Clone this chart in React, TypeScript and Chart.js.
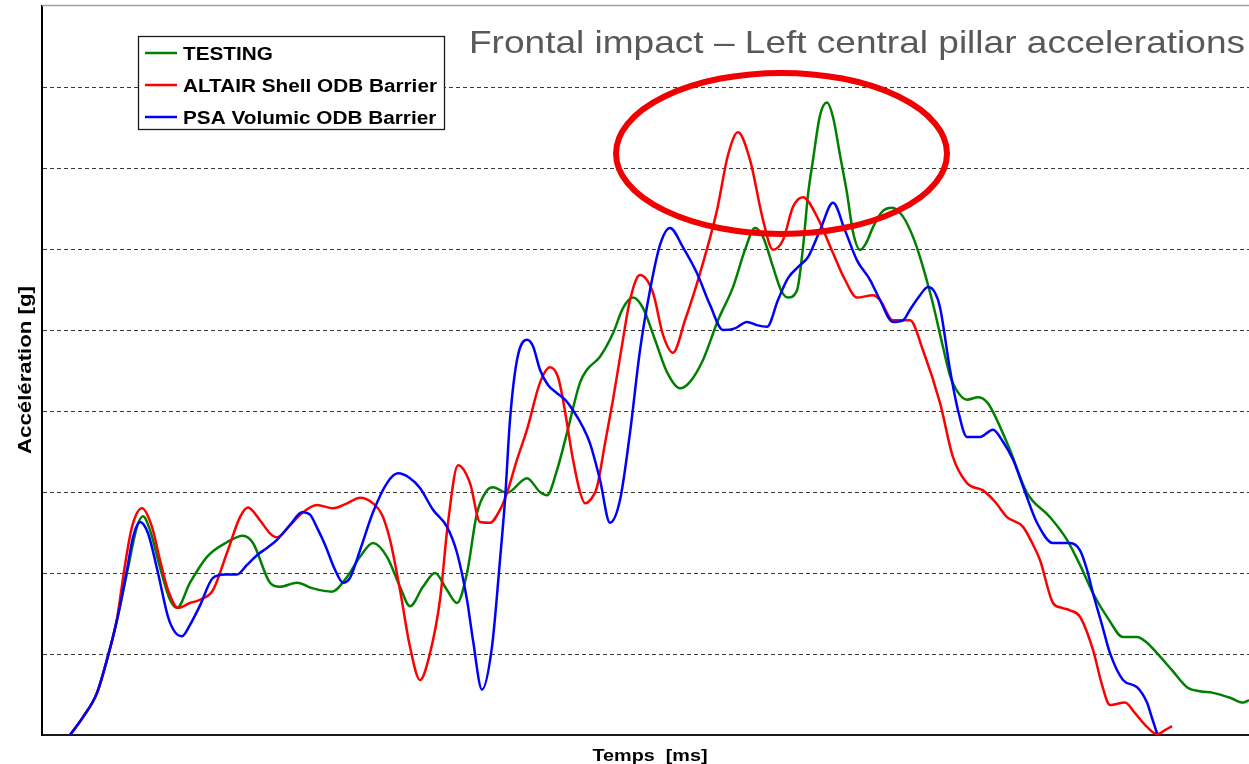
import React, { useEffect, useRef } from 'react';
import { Chart, registerables } from 'chart.js';

Chart.register(...registerables);

// ---------------- DATA ----------------
const testingTime = [2.8,4.1,5.5,6.5,7.5,8.5,9.5,10.1,10.8,11.8,12.8,13.5,14.8,16.5,18.5,20.1,21.1,22.8,23.8,25.5,27.1,29.0,30.5,31.8,33.1,34.5,35.8,36.8,38.1,39.3,40.5,41.5,42.5,43.5,44.5,45.1,46.5,48.5,49.8,50.5,51.5,52.5,53.8,54.5,55.8,57.1,58.1,59.1,60.1,61.3,62.5,63.8,64.8,66.1,67.6,69.1,70.3,71.3,72.1,73.1,73.9,74.6,75.5,76.1,76.6,77.1,77.8,78.5,79.1,79.8,80.5,81.1,81.8,82.4,83.1,84.0,85.0,86.1,87.1,87.8,89.0,90.1,90.8,91.6,92.5,93.6,94.5,95.1,96.8,98.5,100.8,102.5,103.8,105.1,106.6,108.1,109.5,110.5,111.5,113.0,114.5,115.8,117.1,118.8,120.1,120.7];
const testingAccel = [0,2.2,5.2,9.3,14.2,20.0,25.7,27.0,25.3,20.7,16.7,15.7,18.8,22.0,23.8,24.6,23.7,18.8,18.3,18.8,18.1,17.7,19.5,22.0,23.7,22.0,18.3,15.9,18.3,20.0,17.9,16.3,20.0,27.4,30.2,30.6,29.9,31.7,30.0,29.6,32.7,37.3,43.5,45.1,46.7,49.6,52.7,54.0,52.7,48.8,44.8,42.8,43.6,46.3,51.2,55.3,59.9,62.6,61.5,57.8,54.9,54.0,54.9,60.2,66.7,71.0,76.5,78.1,76.3,71.6,66.9,62.1,59.9,60.7,62.7,64.6,65.1,64.0,61.5,59.0,53.7,47.9,44.4,42.3,41.4,41.7,41.1,39.9,35.2,29.9,26.9,24.1,21.0,17.5,14.4,12.1,12.1,11.4,10.1,8.0,5.9,5.4,5.2,4.6,4.0,4.3];

const altairTime = [2.8,4.1,5.5,6.5,7.5,8.3,9.0,10.0,11.0,11.8,12.6,13.6,14.8,15.8,17.1,18.5,19.8,20.6,21.8,22.8,23.5,24.8,26.1,27.5,29.1,30.5,31.8,33.1,34.0,34.8,35.8,36.8,37.8,38.8,39.8,40.6,41.6,42.8,43.8,44.8,45.8,46.5,47.5,48.5,49.8,50.8,51.6,52.1,53.1,53.8,54.3,55.0,55.5,56.3,57.1,58.0,58.8,59.8,61.1,62.1,63.1,64.3,65.8,67.5,68.6,69.6,70.8,72.1,73.1,74.1,75.1,76.1,77.5,79.1,80.3,81.5,83.1,83.8,85.1,86.8,88.1,89.8,91.1,92.5,94.1,95.3,96.5,98.1,99.1,99.8,101.1,102.0,102.8,103.8,105.1,106.0,106.8,108.3,109.3,110.5,111.5,112.3,113.0];
const altairAccel = [0,2.2,5.2,9.3,14.4,21.0,25.7,28.0,25.7,21.6,17.9,15.7,16.3,16.7,17.9,22.5,26.9,28.1,26.5,24.9,24.4,25.9,27.5,28.4,28.0,28.6,29.3,28.6,27.2,24.1,17.9,10.9,6.8,10.1,16.7,26.2,33.3,31.1,26.3,26.2,27.8,29.9,34.0,37.7,43.5,45.4,44.2,41.4,34.0,30.0,28.6,29.3,30.6,36.0,41.4,48.1,53.7,56.8,54.6,49.4,47.2,51.2,57.0,64.8,71.6,74.4,71.0,63.6,59.9,61.1,65.2,66.4,64.0,59.5,56.2,54.0,54.3,53.7,51.2,51.2,47.5,41.0,34.3,31.1,30.2,28.8,26.9,25.7,23.5,21.6,16.3,15.7,15.4,14.6,10.5,6.2,3.7,4.0,2.7,1.0,0.1,0.6,1.1];

const psaTime = [2.8,4.1,5.5,6.5,7.5,8.5,9.1,9.8,10.6,11.6,12.6,13.3,14.0,14.8,15.8,17.1,18.3,19.5,20.5,21.5,22.5,23.5,24.8,26.0,26.8,27.5,28.3,29.3,30.1,30.8,31.8,33.1,34.5,35.6,36.8,37.8,39.1,40.5,41.5,42.5,43.1,44.0,45.0,45.8,46.3,46.8,47.5,48.5,49.1,49.8,50.6,51.5,52.3,53.1,54.1,54.8,55.8,56.8,57.8,58.8,59.8,60.8,61.8,62.8,64.1,65.5,66.8,68.1,69.3,70.5,71.5,72.5,73.6,74.6,75.8,76.6,77.8,79.1,80.3,81.5,82.8,83.8,85.1,86.1,86.8,87.8,88.6,89.3,89.8,90.8,91.6,92.5,93.8,95.1,96.1,97.1,98.3,99.5,101.1,102.8,103.8,104.5,105.1,106.0,106.8,108.1,109.5,110.5,111.0,111.5];
const psaAccel = [0,2.2,5.2,9.3,14.2,20.4,24.4,26.3,24.9,20.0,14.6,12.7,12.2,13.6,16.0,19.4,19.8,19.8,21.0,22.2,23.1,24.1,25.9,27.5,27.2,25.6,23.5,20.4,18.8,19.4,22.8,27.5,31.1,32.3,31.7,30.5,27.8,25.7,22.5,16.7,11.7,5.6,10.9,21.6,29.0,38.9,46.3,48.8,48.0,45.1,43.2,42.2,41.4,40.1,38.0,36.0,31.5,26.2,29.0,37.3,47.5,54.9,60.5,62.6,60.2,57.0,53.1,50.0,50.2,51.0,50.6,50.4,53.7,56.4,58.0,59.0,62.3,65.7,62.3,58.6,56.2,53.7,51.0,51.2,52.5,54.3,55.3,54.6,52.8,45.1,40.1,36.8,36.8,37.7,36.2,34.0,30.0,26.2,23.7,23.7,22.8,20.4,17.5,13.6,10.1,6.8,5.9,4.0,2.1,0.2];

const seriesLabels = ['TESTING', 'ALTAIR Shell ODB Barrier', 'PSA Volumic ODB Barrier'];
const seriesColors = ['#008000', '#ff0000', '#0000ff'];

const chartTitle = 'Frontal impact \u2013 Left central pillar accelerations';
const xAxisTitle = 'Temps  [ms]';
const yAxisTitle = 'Acc\u00e9l\u00e9ration [g]';

const timeRange = [0, 120.7];
const accelRange = [0, 90];
const accelStep = 10;

// highlighted region (ellipse) in data units: centre time, centre accel, half-width, half-height
const highlightCentre = [73.95, 71.8];
const highlightRadii = [16.55, 9.94];

// ---------------- HELPERS ----------------
const FONT = "'Liberation Sans', Arial, Helvetica, sans-serif";

function toPoints(t: number[], a: number[]) {
  const n = Math.min(t.length, a.length);
  const out: { x: number; y: number }[] = [];
  for (let i = 0; i < n; i++) out.push({ x: t[i], y: a[i] });
  return out;
}

function drawStretched(
  ctx: CanvasRenderingContext2D,
  text: string,
  x: number,
  y: number,
  font: string,
  width: number,
  align: CanvasTextAlign,
  rot = 0,
  color = '#000'
) {
  ctx.save();
  ctx.font = font;
  const w = ctx.measureText(text).width || 1;
  const sx = width / w;
  ctx.translate(x, y);
  if (rot) ctx.rotate(rot);
  ctx.scale(sx, 1);
  ctx.textAlign = align;
  ctx.textBaseline = 'alphabetic';
  ctx.fillStyle = color;
  ctx.fillText(text, 0, 0);
  ctx.restore();
}

const overlayPlugin = {
  id: 'overlay',
  afterDraw(chart: any) {
    const { ctx, chartArea, scales } = chart;
    const xs = scales.x;
    const ys = scales.y;

    ctx.save();
    // top frame line
    ctx.strokeStyle = '#a3a3a3';
    ctx.lineWidth = 1.5;
    ctx.beginPath();
    ctx.moveTo(chartArea.left, chartArea.top - 0.5);
    ctx.lineTo(chartArea.right, chartArea.top - 0.5);
    ctx.stroke();

    // highlight ellipse
    const cx = xs.getPixelForValue(highlightCentre[0]);
    const cy = ys.getPixelForValue(highlightCentre[1]);
    const rx = xs.getPixelForValue(highlightCentre[0] + highlightRadii[0]) - cx;
    const ry = cy - ys.getPixelForValue(highlightCentre[1] + highlightRadii[1]);
    ctx.strokeStyle = '#f00000';
    ctx.lineWidth = 6;
    ctx.beginPath();
    ctx.ellipse(cx, cy, rx, ry, 0, 0, Math.PI * 2);
    ctx.stroke();

    // legend
    const bx = 138, by = 36, bw = 307, bh = 94;
    ctx.fillStyle = '#ffffff';
    ctx.fillRect(bx, by, bw, bh);
    ctx.strokeStyle = '#1a1a1a';
    ctx.lineWidth = 1.3;
    ctx.strokeRect(bx + 0.5, by + 0.5, bw - 1, bh - 1);
    const legendFont = `bold 17.5px ${FONT}`;
    ctx.font = legendFont;
    const refW = ctx.measureText(seriesLabels[1]).width || 1;
    const sx = 254 / refW;
    chart.data.datasets.forEach((ds: any, i: number) => {
      const ly = 53 + i * 32;
      ctx.strokeStyle = ds.borderColor;
      ctx.lineWidth = 2.5;
      ctx.beginPath();
      ctx.moveTo(145, ly);
      ctx.lineTo(177, ly);
      ctx.stroke();
      ctx.font = legendFont;
      const w = ctx.measureText(ds.label).width;
      drawStretched(ctx, ds.label, 183, ly + 6.5, legendFont, w * sx, 'left');
    });

    // chart title
    drawStretched(ctx, chartTitle, 469, 53, `32px ${FONT}`, 776, 'left', 0, '#595959');
    // axis titles
    drawStretched(ctx, xAxisTitle, 650, 761, `bold 17px ${FONT}`, 115, 'center');
    drawStretched(ctx, yAxisTitle, 31, 370, `bold 19px ${FONT}`, 168, 'center', -Math.PI / 2);
    ctx.restore();
  },
};

export default function App() {
  const canvasRef = useRef<HTMLCanvasElement | null>(null);

  useEffect(() => {
    document.body.style.margin = '0';
    const canvas = canvasRef.current;
    if (!canvas) return;
    const datasets = [
      { label: seriesLabels[0], data: toPoints(testingTime, testingAccel), borderColor: seriesColors[0], order: 3 },
      { label: seriesLabels[1], data: toPoints(altairTime, altairAccel), borderColor: seriesColors[1], order: 2 },
      { label: seriesLabels[2], data: toPoints(psaTime, psaAccel), borderColor: seriesColors[2], order: 1 },
    ].map((d) => ({
      ...d,
      backgroundColor: d.borderColor,
      borderWidth: 2.5,
      pointRadius: 0,
      pointHoverRadius: 0,
      fill: false,
      cubicInterpolationMode: 'monotone' as const,
    }));

    const chart = new Chart(canvas, {
      type: 'line',
      data: { datasets },
      options: {
        responsive: false,
        animation: false,
        devicePixelRatio: 1,
        layout: { padding: { top: 6, left: 0, right: 0, bottom: 0 } },
        plugins: {
          legend: { display: false },
          title: { display: false },
          tooltip: { enabled: false },
        },
        events: [],
        scales: {
          x: {
            type: 'linear',
            min: timeRange[0],
            max: timeRange[1],
            grid: { display: false, drawTicks: false },
            border: { display: true, color: '#1a1a1a', width: 2 },
            ticks: { display: false },
            title: { display: false },
            afterFit: (s: any) => { s.height = 29; },
          },
          y: {
            type: 'linear',
            min: accelRange[0],
            max: accelRange[1],
            ticks: { display: false, stepSize: accelStep },
            grid: {
              drawTicks: false,
              lineWidth: 1,
              color: (c: any) =>
                c.tick && (c.tick.value === accelRange[0] || c.tick.value === accelRange[1])
                  ? 'rgba(0,0,0,0)'
                  : '#3a3a3a',
            },
            border: { display: true, color: '#000', width: 2, dash: [4, 3] },
            title: { display: false },
            afterFit: (s: any) => { s.width = 42; },
          },
        },
      },
      plugins: [overlayPlugin],
    });
    return () => chart.destroy();
  }, []);

  return (
    <div style={{ width: 1249, height: 764, background: '#fff' }}>
      <canvas ref={canvasRef} width={1249} height={764} style={{ display: 'block' }} />
    </div>
  );
}
